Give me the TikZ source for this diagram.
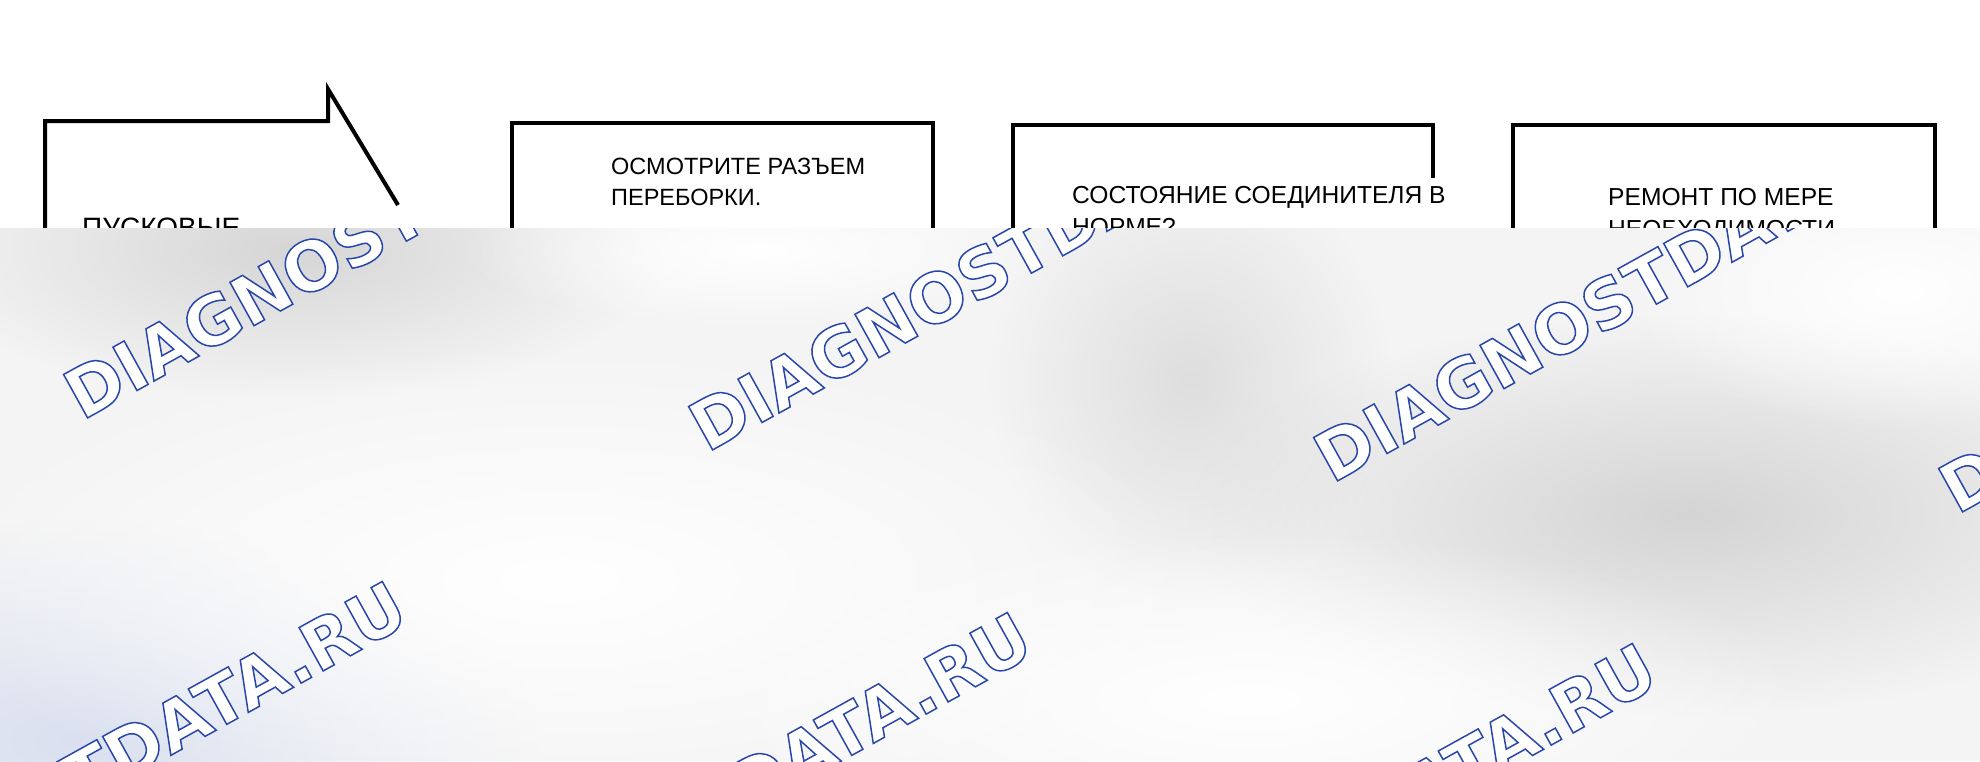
\documentclass[tikz,border=0pt]{standalone}
\usepackage{fontspec}
\usetikzlibrary{fadings}
\setmainfont{Liberation Sans}
\newfontfamily\wmfont{DejaVu Sans}
\definecolor{bgc}{RGB}{244,244,244}
\tikzfading[name=blob, inner color=transparent!0, outer color=transparent!100]
\newcommand\wmstr{\special{pdf:literal 2 Tr 1.5 w 1 1 1 rg 0.16 0.28 0.66 RG}DIAGNOSTDATA.RU\special{pdf:literal 0 Tr}}
\begin{document}
\begin{tikzpicture}[x=1pt,y=-1pt,
  edge/.style={line width=4pt, line join=miter},
  frame/.style={draw, line width=4pt, inner sep=0pt},
  lbl/.style={anchor=base west, inner sep=0pt},
  wm/.style={anchor=base west, inner sep=0pt, rotate=29, font=\wmfont\bfseries\fontsize{68}{68}\selectfont},
  blobstyle/.style={path fading=blob}]
\useasboundingbox (0,0) rectangle (1980,761);
\fill[white] (0,0) rectangle (1980,761);

% box 1 (flag shape)
\coordinate (f1) at (328,89);
\coordinate (f2) at (398,205);
\draw[edge] (45,700) -- (45,121) -- (328,121) -- (f1) -- (f2);
% box 2
\node[frame, minimum width=421, minimum height=577] (box2) at (722.5,411.5) {};
% box 3 (right edge interrupted by the text)
\coordinate (b3a) at (1433,178);
\draw[edge] (b3a) -- (1433,125) -- (1013,125) -- (1013,700);
% box 4
\node[frame, minimum width=422, minimum height=575] (box4) at (1724,412.5) {};

% texts
\node[lbl, font=\fontsize{28}{32}\selectfont] (t1a) at (82,237) {ПУСКОВЫЕ};
\node[lbl, font=\fontsize{23.5}{28}\selectfont] (t2a) at (611,174) {ОСМОТРИТЕ РАЗЪЕМ};
\node[lbl, font=\fontsize{23.5}{28}\selectfont] (t2b) at (611,205) {ПЕРЕБОРКИ.};
\node[lbl, font=\fontsize{24.6}{28}\selectfont] (t3a) at (1072,203) {СОСТОЯНИЕ СОЕДИНИТЕЛЯ В};
\node[lbl, font=\fontsize{24.6}{28}\selectfont] (t3b) at (1072,235) {НОРМЕ?};
\node[lbl, font=\fontsize{24.6}{28}\selectfont] (t4a) at (1608,205) {РЕМОНТ ПО МЕРЕ};
\node[lbl, font=\fontsize{24.6}{28}\selectfont] (t4b) at (1608,237) {НЕОБХОДИМОСТИ};

% overlay band
\begin{scope}
\clip (0,228) rectangle (1980,761);
\fill[bgc] (0,228) rectangle (1980,761);
\fill[blobstyle, color={rgb,255:red,214;green,214;blue,214}] (290,250) ellipse [x radius=380, y radius=150];
\fill[blobstyle, color={rgb,255:red,222;green,222;blue,222}] (1190,380) ellipse [x radius=200, y radius=220];
\fill[blobstyle, color={rgb,255:red,212;green,212;blue,212}] (1690,515) ellipse [x radius=500, y radius=200];
\fill[blobstyle, color={rgb,255:red,218;green,224;blue,240}] (80,740) ellipse [x radius=460, y radius=220];
\fill[blobstyle, color=white] (560,580) ellipse [x radius=650, y radius=240];
\fill[blobstyle, color=white] (1250,700) ellipse [x radius=560, y radius=170];
\fill[blobstyle, color=white] (1900,290) ellipse [x radius=280, y radius=140];
\fill[blobstyle, color=white] (760,250) ellipse [x radius=300, y radius=80];

% watermark
\foreach \px/\py [count=\i] in {-543/390, 82/421, 707/453, 1332/484, 1957/515, -229/977, 396/1008, 1021/1039, 1646/1070}
  \node[wm] (wm\i) at (\px,\py) {\wmstr};
\end{scope}
\end{tikzpicture}
\end{document}
